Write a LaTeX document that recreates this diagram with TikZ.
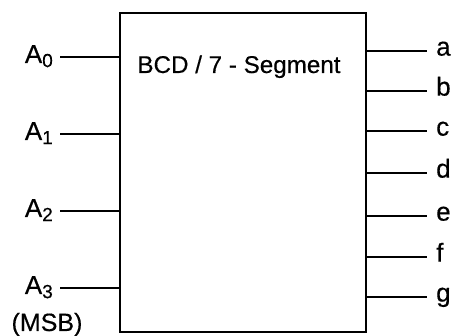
\documentclass[tikz,border=0pt]{standalone}
\usepackage{fontspec}
\setmainfont{Liberation Sans}[UprightFeatures={FakeBold=0.4}]
\begin{document}
\begin{tikzpicture}[x=1pt,y=-1pt,
  wire/.style={line width=2.8pt},
  inlab/.style={anchor=base east,inner sep=0pt,font=\fontsize{26}{30}\selectfont},
  outlab/.style={anchor=mid west,inner sep=0pt,font=\fontsize{26}{30}\selectfont}]
\useasboundingbox (0,0) rectangle (453,336);
\node[draw,line width=2.8pt,minimum width=246pt,minimum height=319pt,inner sep=0pt] (box) at (243,172.5) {};
\node[anchor=base,inner sep=0pt,font=\fontsize{24.2}{28}\selectfont] (title) at (239,73) {BCD / 7 - Segment};
% inputs
\foreach \n/\y in {0/57,1/134,2/211,3/288}{
  \coordinate (in\n) at (60,\y);
  \coordinate (bi\n) at (box.west |- in\n);
  \draw[wire] (in\n) -- (bi\n);
  \node[inlab] (la\n) at (53,\y+6) {A\raisebox{-0.3ex}{\fontsize{19}{20}\selectfont\n}};
}
\node[anchor=base,inner sep=0pt,font=\fontsize{25}{28}\selectfont] (msb) at (47,331) {(MSB)};
% outputs
\foreach \l/\y in {a/51,b/91,c/131,d/173,e/216,f/257,g/297}{
  \coordinate (out\l) at (427,\y);
  \coordinate (bo\l) at (box.east |- out\l);
  \draw[wire] (bo\l) -- (out\l);
  \node[outlab] (lo\l) at (436,\y+2) {\l};
}
\end{tikzpicture}
\end{document}
